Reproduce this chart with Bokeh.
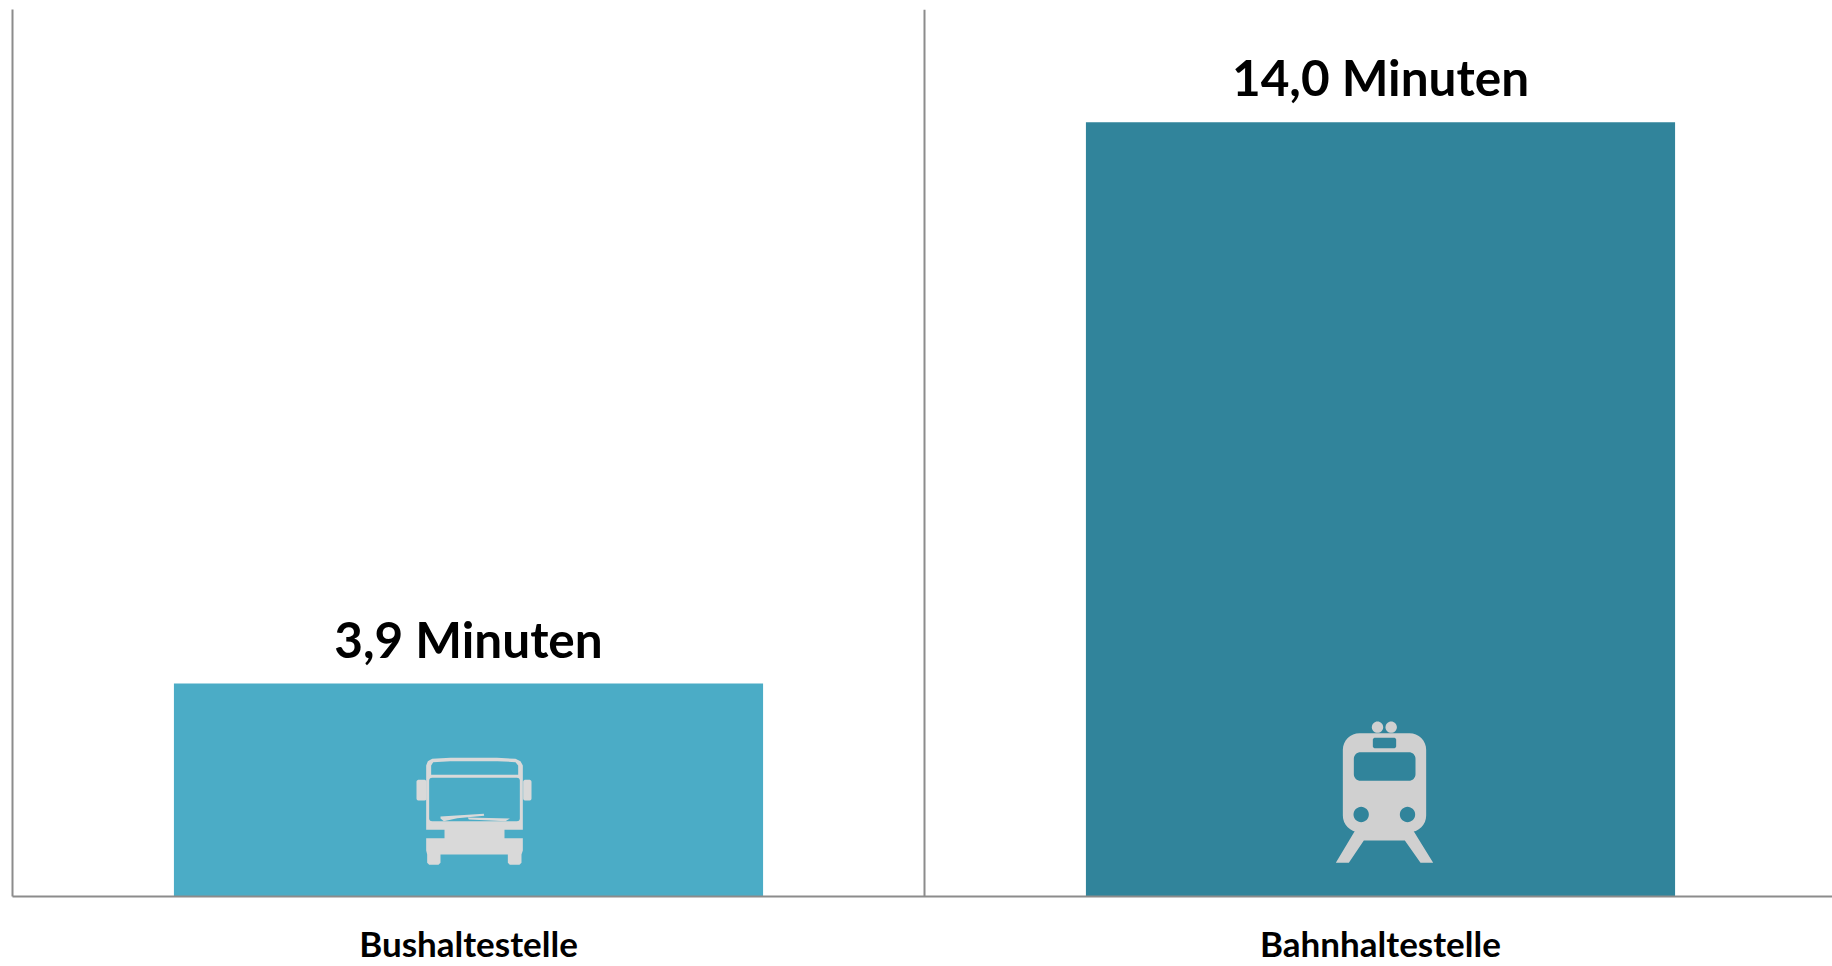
import math
from bokeh.plotting import figure
from bokeh.models import Range1d, FixedTicker, Span, ColumnDataSource
from bokeh.core.properties import value
from bokeh.embed import file_html
from bokeh.resources import INLINE

# --- data ---
categories = ["Bushaltestelle", "Bahnhaltestelle"]
minutes = [3.85, 14.0]
value_labels = ["3,9 Minuten", "14,0 Minuten"]
bar_colors = ["#4BACC6", "#31849B"]

FONT = "Lato"
AXIS = "#8C8C8C"
W, H = 1832, 966
LEFT, TOP, BOTTOM = 12, 9, 70
PX_PER_CAT = 912.0
YMAX = 16.04
plot_h = H - TOP - BOTTOM
x_end = (W - LEFT) / PX_PER_CAT

p = figure(width=W, height=H, output_backend="svg", toolbar_location=None,
           x_range=Range1d(0, x_end), y_range=Range1d(0, YMAX),
           min_border_left=LEFT, min_border_right=0, min_border_top=TOP, min_border_bottom=BOTTOM,
           outline_line_color=None, background_fill_color="white", border_fill_color="white")
p.grid.visible = False

xs = [i + 0.5 for i in range(len(categories))]

src = ColumnDataSource(dict(x=xs, top=minutes, color=bar_colors, label=value_labels))
p.vbar(x="x", top="top", bottom=0, width=0.646, fill_color="color", line_color=None, source=src)
p.text(x="x", y="top", text="label", source=src, text_align="center", text_baseline="alphabetic",
       y_offset=-45, text_font=value(FONT), text_font_style="bold", text_font_size="49.5px", text_color="#000000")

p.add_layout(Span(location=1, dimension="height", line_color=AXIS, line_width=2))

p.xaxis.ticker = FixedTicker(ticks=xs)
p.xaxis.major_label_overrides = {x: c for x, c in zip(xs, categories)}
p.xaxis.major_label_text_font = FONT
p.xaxis.major_label_text_font_style = "bold"
p.xaxis.major_label_text_font_size = "35px"
p.xaxis.major_label_text_color = "#000000"
p.xaxis.major_label_standoff = 19
p.xaxis.major_tick_line_color = None
p.xaxis.minor_tick_line_color = None
p.xaxis.axis_line_color = AXIS
p.xaxis.axis_line_width = 2

p.yaxis.ticker = FixedTicker(ticks=[])
p.yaxis.major_label_text_font_size = "0px"
p.yaxis.major_tick_line_color = None
p.yaxis.minor_tick_line_color = None
p.yaxis.axis_line_color = AXIS
p.yaxis.axis_line_width = 2


# --- pictogram helpers: outlines in page pixels, converted through the chart's scales ---
def dx(px):
    return (px - LEFT) / PX_PER_CAT


def dy(py):
    return (H - BOTTOM - py) * YMAX / plot_h


def to_data(pts):
    return [dx(a) for a, _ in pts], [dy(b) for _, b in pts]


def rrect(x0, y0, x1, y1, r):
    out = []
    for cx, cy, a0 in [(x1 - r, y0 + r, -90), (x1 - r, y1 - r, 0), (x0 + r, y1 - r, 90), (x0 + r, y0 + r, 180)]:
        for k in range(9):
            t = math.radians(a0 + k * 90 / 8)
            out.append((cx + r * math.cos(t), cy + r * math.sin(t)))
    return out


def circle(cx, cy, r):
    return [(cx + r * math.cos(2 * math.pi * k / 32), cy + r * math.sin(2 * math.pi * k / 32)) for k in range(32)]


def draw(parts, color):
    mx, my = [], []
    for outer, holes in parts:
        rings = [outer] + holes
        conv = [to_data(r) for r in rings]
        mx.append([[c[0] for c in conv]])
        my.append([[c[1] for c in conv]])
    p.multi_polygons(xs=mx, ys=my, fill_color=color, line_color=None)


def bus(a, b):
    return 390 + a / 3, 730 + b / 3


def train(a, b):
    return 1310 + a / 3, 700 + b / 3


def rb(f, x0, y0, x1, y1, r):
    (a0, b0), (a1, b1) = f(x0, y0), f(x1, y1)
    return rrect(a0, b0, a1, b1, r / 3)


def poly(f, pts):
    return [f(a, b) for a, b in pts]


# bus pictogram
bus_body = poly(bus, [(107, 105), (112, 92), (125, 85), (180, 82), (320, 82), (375, 85), (390, 92), (397, 105),
                      (397, 298), (342, 298), (342, 323), (397, 323), (397, 360), (393, 372), (393, 397),
                      (387, 403), (358, 403), (352, 397), (352, 372), (150, 372), (150, 397), (144, 403),
                      (116, 403), (110, 397), (110, 372), (107, 360), (107, 323), (162, 323), (162, 298), (107, 298)])
bus_parts = [
    (bus_body, [
        poly(bus, [(122, 133), (122, 105), (128, 95), (180, 92), (320, 92), (375, 95), (383, 105), (383, 133)]),
        rb(bus, 116, 142, 388, 272, 8),
    ]),
    (rb(bus, 78, 148, 108, 210, 6), []),
    (rb(bus, 398, 148, 423, 210, 6), []),
    (poly(bus, [(150, 258), (280, 250), (281, 256), (200, 263), (160, 272), (150, 264)]), []),
    (poly(bus, [(232, 261), (358, 264), (345, 272), (235, 267)]), []),
]
draw(bus_parts, "#D9D9D9")

# train pictogram
train_body = rb(train, 97, 98, 347, 395, 50)
train_parts = [
    (train_body, [
        rb(train, 130, 155, 315, 241, 20),
        rb(train, 187, 112, 257, 143, 6),
        [train(a, b) for a, b in circle(152, 342, 23)],
        [train(a, b) for a, b in circle(291, 342, 23)],
    ]),
    ([train(a, b) for a, b in circle(201, 80, 17)], []),
    ([train(a, b) for a, b in circle(242, 80, 17)], []),
    (poly(train, [(137, 385), (305, 385), (368, 487), (330, 487), (283, 420), (160, 420), (115, 487), (76, 487)]), []),
]
draw(train_parts, "#D0D0D0")

open("out.html", "w").write(file_html(p, INLINE))
